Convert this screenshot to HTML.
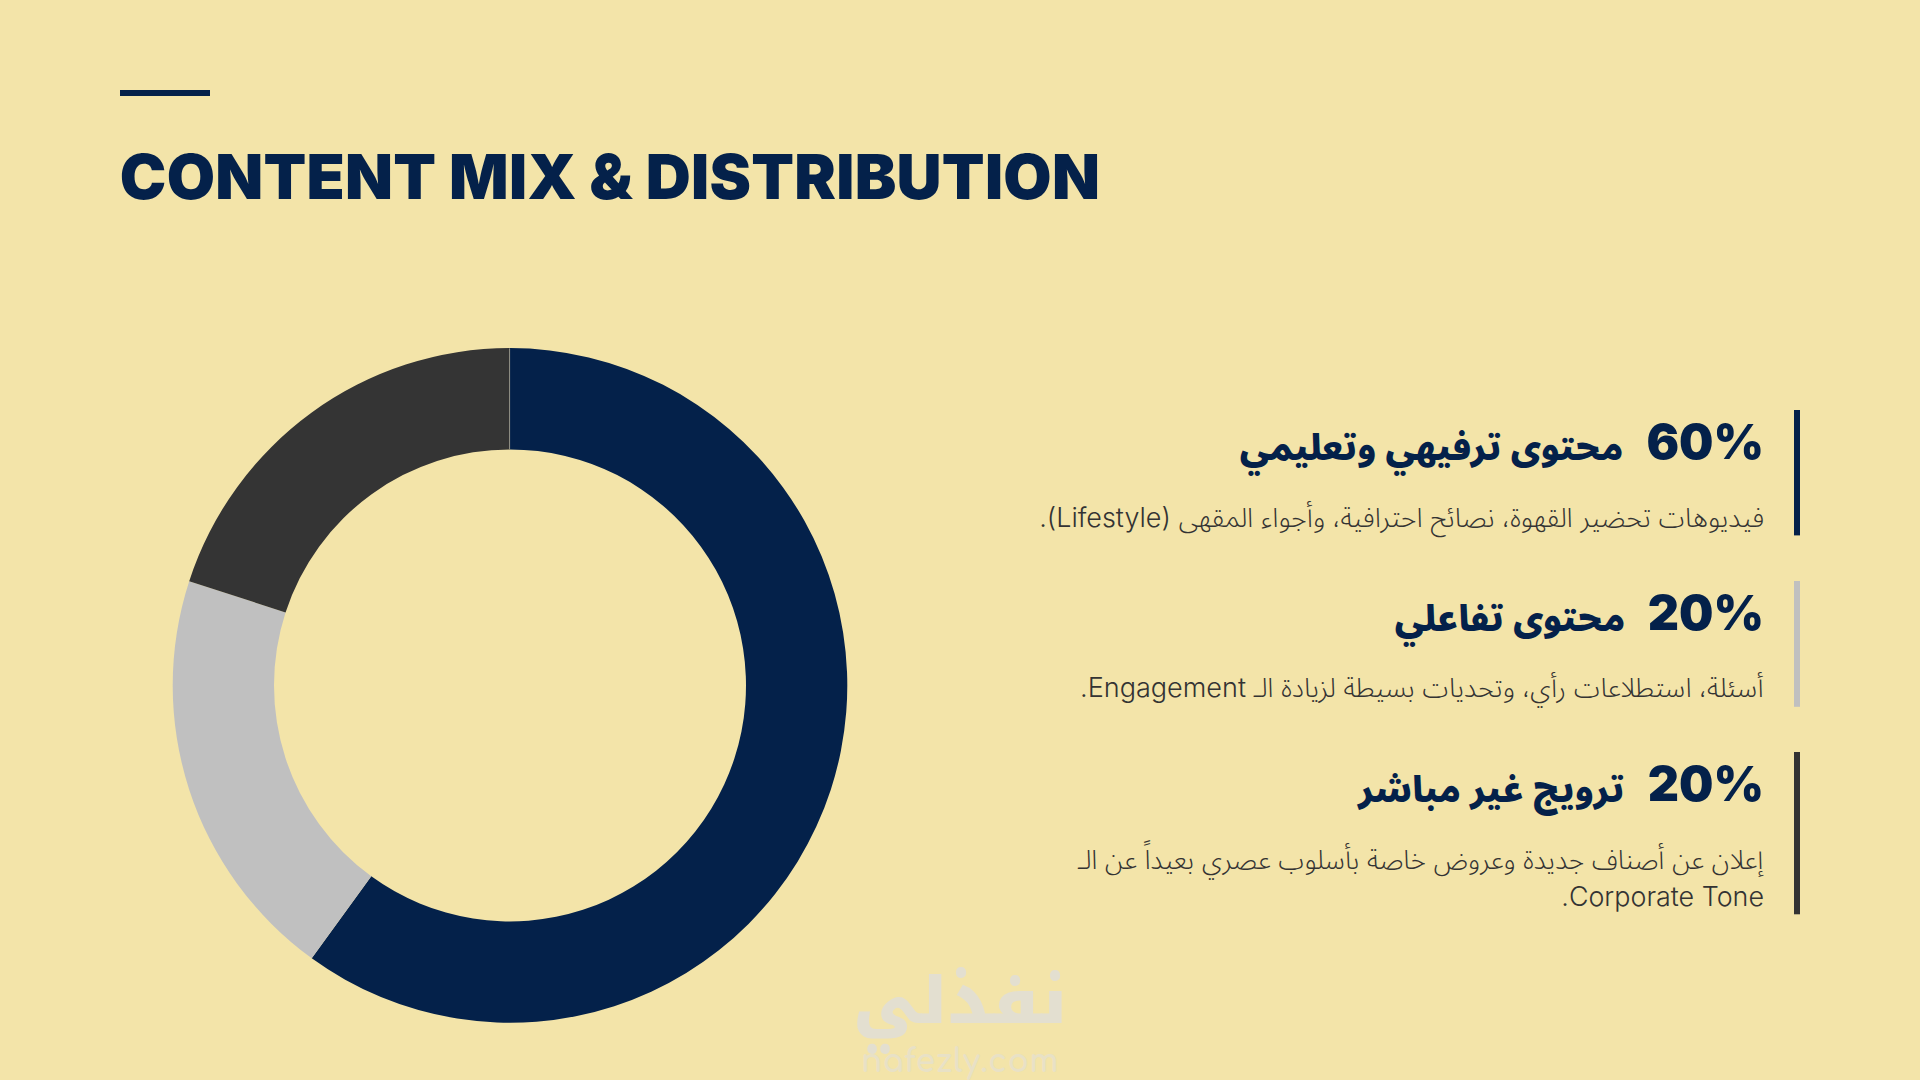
<!DOCTYPE html>
<html lang="ar">
<head>
<meta charset="utf-8">
<title>Content Mix &amp; Distribution</title>
<style>
html,body{margin:0;padding:0;}
body{width:1920px;height:1080px;overflow:hidden;background:#f3e4a9;position:relative;font-family:"Inter","Liberation Sans",sans-serif;}
svg.page{position:absolute;left:0;top:0;width:1920px;height:1080px;display:block;}
.title{font-family:"Inter","Liberation Sans","DejaVu Sans",sans-serif;font-weight:900;font-size:62.4px;fill:#04214a;letter-spacing:0.3px;}
.num{font-family:"Inter","DejaVu Sans","Liberation Sans",sans-serif;font-weight:900;font-size:48.4px;fill:#04214a;}
.hd{font-family:"Noto Sans Arabic","Rubik","DejaVu Sans",sans-serif;font-weight:900;font-size:35.5px;fill:#04214a;}
.bd{font-family:"Inter","Noto Sans Arabic","Rubik","Liberation Sans","DejaVu Sans",sans-serif;font-weight:300;font-size:27px;fill:#333333;}
.wm{font-family:"Noto Kufi Arabic","DejaVu Sans",sans-serif;font-weight:900;font-size:64px;fill:#e3dfd0;}
.wm2{font-family:"Comfortaa","Varela Round","DejaVu Sans",sans-serif;font-weight:700;font-size:32px;fill:#e8e1c6;letter-spacing:0.6px;}
</style>
</head>
<body>
<svg class="page" viewBox="0 0 1920 1080" width="1920" height="1080">
  <rect x="120" y="90" width="90" height="6" fill="#04214a"/>
  <text class="title" x="119.8" y="199.1" textLength="980.4" lengthAdjust="spacingAndGlyphs">CONTENT MIX &amp; DISTRIBUTION</text>

  <g id="donut">
    <path fill="#04214a" d="M510.00 348.10A337.3 337.3 0 1 1 311.74 958.28L371.28 876.33A236.0 236.0 0 1 0 510.00 449.40Z"/>
    <path fill="#c0c0c0" d="M311.74 958.28A337.3 337.3 0 0 1 189.21 581.17L285.55 612.47A236.0 236.0 0 0 0 371.28 876.33Z"/>
    <path fill="#343434" d="M189.21 581.17A337.3 337.3 0 0 1 510.00 348.10L510.00 449.40A236.0 236.0 0 0 0 285.55 612.47Z"/>
  </g>
  <line x1="509.6" y1="348.4" x2="509.6" y2="449" stroke="#b0aea0" stroke-width="0.8"/>

  <rect x="1794" y="410" width="6" height="125.4" fill="#04214a"/>
  <text class="num" x="1764" y="459.2" text-anchor="end" textLength="117.6" lengthAdjust="spacingAndGlyphs">60%</text>
  <text class="hd" x="1623.2" y="459.8" direction="rtl" textLength="383.5" lengthAdjust="spacingAndGlyphs">محتوى ترفيهي وتعليمي</text>
  <text class="bd" x="1764" y="526.5" direction="rtl" textLength="724.8" lengthAdjust="spacingAndGlyphs">فيديوهات تحضير القهوة، نصائح احترافية، وأجواء المقهى (Lifestyle).</text>

  <rect x="1794" y="581" width="6" height="125.8" fill="#c0c0c0"/>
  <text class="num" x="1764" y="630.2" text-anchor="end" textLength="116.2" lengthAdjust="spacingAndGlyphs">20%</text>
  <text class="hd" x="1625.2" y="630.8" direction="rtl" textLength="230.4" lengthAdjust="spacingAndGlyphs">محتوى تفاعلي</text>
  <text class="bd" x="1763.6" y="697.2" direction="rtl" textLength="683.6" lengthAdjust="spacingAndGlyphs">أسئلة، استطلاعات رأي، وتحديات بسيطة لزيادة الـ Engagement.</text>

  <rect x="1794" y="752" width="6" height="162.3" fill="#333333"/>
  <text class="num" x="1764" y="801.2" text-anchor="end" textLength="116.2" lengthAdjust="spacingAndGlyphs">20%</text>
  <text class="hd" x="1624.5" y="801.8" direction="rtl" textLength="266.2" lengthAdjust="spacingAndGlyphs">ترويج غير مباشر</text>
  <text class="bd" x="1763.2" y="868.6" direction="rtl" textLength="685.4" lengthAdjust="spacingAndGlyphs">إعلان عن أصناف جديدة وعروض خاصة بأسلوب عصري بعيداً عن الـ</text>
  <text class="bd" x="1764" y="905.6" direction="rtl" textLength="202.7" lengthAdjust="spacingAndGlyphs">Corporate Tone.</text>
  <text class="wm" x="1067" y="1023" direction="rtl" textLength="214" lengthAdjust="spacingAndGlyphs">نفذلي</text>
  <text class="wm2" x="861" y="1072" textLength="198" lengthAdjust="spacingAndGlyphs">nafezly.com</text>
</svg>
</body>
</html>
